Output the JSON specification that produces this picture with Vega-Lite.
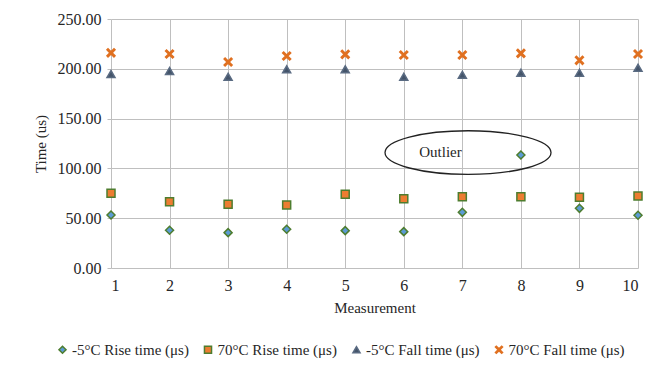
{
  "$schema": "https://vega.github.io/schema/vega-lite/v6.json",
  "width": 527,
  "height": 249,
  "autosize": {"type": "none"},
  "padding": {"left": 111, "top": 19, "right": 28, "bottom": 104},
  "background": "white",
  "config": {
    "view": {"stroke": null},
    "font": "Liberation Serif",
    "axis": {
      "labelFont": "Liberation Serif",
      "titleFont": "Liberation Serif",
      "labelFontSize": 16,
      "titleFontSize": 15,
      "titleFontWeight": "normal",
      "labelColor": "#262626",
      "titleColor": "#262626",
      "gridColor": "#bfbfbf",
      "gridWidth": 1,
      "gridOpacity": 1,
      "domain": false,
      "tickColor": "#bfbfbf"
    },
    "legend": {
      "labelFont": "Liberation Serif",
      "labelFontSize": 15,
      "labelColor": "#262626"
    }
  },
  "layer": [
    {
      "data": {
        "values": [
          {"m": 1, "series": "-5°C Rise time (μs)", "t": 53.2},
          {"m": 2, "series": "-5°C Rise time (μs)", "t": 37.9},
          {"m": 3, "series": "-5°C Rise time (μs)", "t": 35.5},
          {"m": 4, "series": "-5°C Rise time (μs)", "t": 38.9},
          {"m": 5, "series": "-5°C Rise time (μs)", "t": 37.5},
          {"m": 6, "series": "-5°C Rise time (μs)", "t": 36.5},
          {"m": 7, "series": "-5°C Rise time (μs)", "t": 55.9},
          {"m": 8, "series": "-5°C Rise time (μs)", "t": 113.4},
          {"m": 9, "series": "-5°C Rise time (μs)", "t": 59.9},
          {"m": 10, "series": "-5°C Rise time (μs)", "t": 52.9},
          {"m": 1, "series": "70°C Rise time (μs)", "t": 75.0},
          {"m": 2, "series": "70°C Rise time (μs)", "t": 66.6},
          {"m": 3, "series": "70°C Rise time (μs)", "t": 64.0},
          {"m": 4, "series": "70°C Rise time (μs)", "t": 63.3},
          {"m": 5, "series": "70°C Rise time (μs)", "t": 74.0},
          {"m": 6, "series": "70°C Rise time (μs)", "t": 69.6},
          {"m": 7, "series": "70°C Rise time (μs)", "t": 71.6},
          {"m": 8, "series": "70°C Rise time (μs)", "t": 71.6},
          {"m": 9, "series": "70°C Rise time (μs)", "t": 71.0},
          {"m": 10, "series": "70°C Rise time (μs)", "t": 72.3},
          {"m": 1, "series": "-5°C Fall time (μs)", "t": 194.8},
          {"m": 2, "series": "-5°C Fall time (μs)", "t": 197.8},
          {"m": 3, "series": "-5°C Fall time (μs)", "t": 192.0},
          {"m": 4, "series": "-5°C Fall time (μs)", "t": 199.5},
          {"m": 5, "series": "-5°C Fall time (μs)", "t": 199.5},
          {"m": 6, "series": "-5°C Fall time (μs)", "t": 192.0},
          {"m": 7, "series": "-5°C Fall time (μs)", "t": 194.0},
          {"m": 8, "series": "-5°C Fall time (μs)", "t": 196.0},
          {"m": 9, "series": "-5°C Fall time (μs)", "t": 196.0},
          {"m": 10, "series": "-5°C Fall time (μs)", "t": 201.0},
          {"m": 1, "series": "70°C Fall time (μs)", "t": 216.0},
          {"m": 2, "series": "70°C Fall time (μs)", "t": 214.9},
          {"m": 3, "series": "70°C Fall time (μs)", "t": 206.8},
          {"m": 4, "series": "70°C Fall time (μs)", "t": 212.9},
          {"m": 5, "series": "70°C Fall time (μs)", "t": 214.5},
          {"m": 6, "series": "70°C Fall time (μs)", "t": 213.9},
          {"m": 7, "series": "70°C Fall time (μs)", "t": 213.9},
          {"m": 8, "series": "70°C Fall time (μs)", "t": 215.5},
          {"m": 9, "series": "70°C Fall time (μs)", "t": 208.5},
          {"m": 10, "series": "70°C Fall time (μs)", "t": 214.9}
        ]
      },
      "mark": {"type": "point", "filled": true, "opacity": 1, "size": 64, "strokeWidth": 1.5},
      "encoding": {
        "x": {
          "field": "m", "type": "quantitative",
          "scale": {"domain": [1, 10], "nice": false, "zero": false},
          "axis": {"title": "Measurement", "values": [1,2,3,4,5,6,7,8,9,10], "format": "d", "ticks": false, "labelPadding": 9, "titlePadding": 7}
        },
        "y": {
          "field": "t", "type": "quantitative",
          "scale": {"domain": [0, 250], "nice": false},
          "axis": {"title": "Time (us)", "values": [0,50,100,150,200,250], "format": ".2f", "tickSize": 4, "labelPadding": 6, "titlePadding": 9}
        },
        "fill": {
          "field": "series", "type": "nominal",
          "scale": {
            "domain": ["-5°C Rise time (μs)", "70°C Rise time (μs)", "-5°C Fall time (μs)", "70°C Fall time (μs)"],
            "range": ["#5b9bd5", "#ed7d31", "#44546a", "#e07020"]
          },
          "legend": {"title": null, "orient": "none", "legendX": -56, "legendY": 323, "direction": "horizontal", "columns": 4, "columnPadding": 11.5, "labelOffset": 2, "symbolSize": 50, "symbolStrokeWidth": 1.5}
        },
        "stroke": {
          "field": "series", "type": "nominal",
          "scale": {
            "domain": ["-5°C Rise time (μs)", "70°C Rise time (μs)", "-5°C Fall time (μs)", "70°C Fall time (μs)"],
            "range": ["#4e7d2f", "#4e7d2f", "#5a6b82", "#e07020"]
          },
          "legend": {"title": null, "orient": "none", "legendX": -56, "legendY": 323, "direction": "horizontal", "columns": 4, "columnPadding": 11.5, "labelOffset": 2, "symbolSize": 50, "symbolStrokeWidth": 1.5}
        },
        "shape": {
          "field": "series", "type": "nominal",
          "scale": {
            "domain": ["-5°C Rise time (μs)", "70°C Rise time (μs)", "-5°C Fall time (μs)", "70°C Fall time (μs)"],
            "range": ["diamond", "square", "triangle-up", "M-1,-0.75L-0.75,-1L0,-0.25L0.75,-1L1,-0.75L0.25,0L1,0.75L0.75,1L0,0.25L-0.75,1L-1,0.75L-0.25,0Z"]
          },
          "legend": {"title": null, "orient": "none", "legendX": -56, "legendY": 323, "direction": "horizontal", "columns": 4, "columnPadding": 11.5, "labelOffset": 2, "symbolSize": 50, "symbolStrokeWidth": 1.5}
        }
      }
    },
    {
      "data": {"values": [{"m": 7.097, "t": 115.9}]},
      "mark": {"type": "point", "filled": false, "shape": "M-1,0A1,0.263 0 1,0 1,0A1,0.263 0 1,0 -1,0Z", "size": 27556, "stroke": "#222222", "strokeWidth": 1.3, "opacity": 1},
      "encoding": {
        "x": {"field": "m", "type": "quantitative"},
        "y": {"field": "t", "type": "quantitative"}
      }
    },
    {
      "data": {"values": [{"m": 6.627, "t": 116.5, "label": "Outlier"}]},
      "mark": {"type": "text", "font": "Liberation Serif", "fontSize": 15, "color": "#262626", "baseline": "middle", "align": "center"},
      "encoding": {
        "x": {"field": "m", "type": "quantitative"},
        "y": {"field": "t", "type": "quantitative"},
        "text": {"field": "label"}
      }
    }
  ]
}
